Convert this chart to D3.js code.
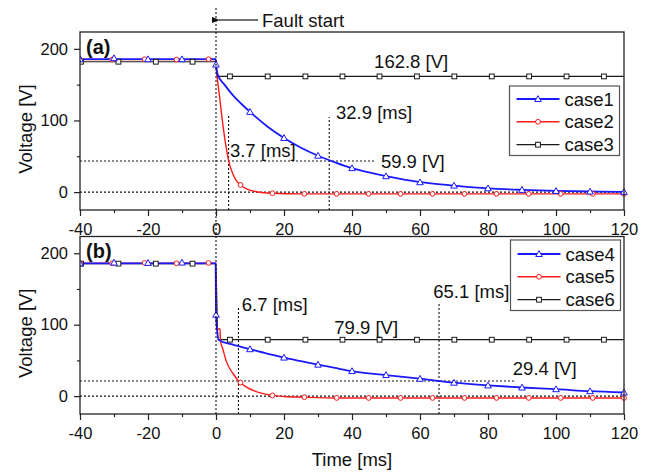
<!DOCTYPE html>
<html><head><meta charset="utf-8">
<script src="https://cdn.jsdelivr.net/npm/d3@7"></script>
<style>body{margin:0;background:#fff}svg{display:block}text{font-family:"Liberation Sans",Arial,sans-serif;fill:#111}</style>
</head><body>
<svg id="chart" width="646" height="472"></svg>
<script>
// ---------- data ----------
const xTicks = [-40,-20,0,20,40,60,80,100,120];
const xMinor = [-30,-10,10,30,50,70,90,110];
const yTicks = [0,100,200];
const yMinor = [50,150];

// panel (a)
const case1Line = [[-40,185.5],[-0.1,185.5],[0,178],[0.5,164],[2.5,150],[5,135],[7.5,123],[10,112],[15,92],[20,75.6],[25,62],[30,50.8],[35,41.5],[40,33.4],[45,27.5],[50,22.2],[60,13.8],[70,9.1],[80,5.3],[90,3.1],[100,1.6],[110,0.8],[120,0.3]];
const case1Marks = [[-40,185.5],[-30,187],[-20,185.5],[-10,185.5],[0,178],[10,112],[20,75.6],[30,50.8],[40,33.4],[50,22.2],[60,13.8],[70,9.1],[80,5.3],[90,3.1],[100,1.6],[110,0.8],[120,0.3]];
const case2Line = [[-40,185],[-0.1,185],[0.3,163],[1,135],[2,95],[3,62],[3.7,44],[5,25],[6,16],[7.2,10],[9,4.5],[12,0.5],[16.6,-1.6],[25,-2.5],[120,-2.5]];
const case2Marks = [[-40,185],[-30.5,185],[-21,185.5],[-11.6,185],[-2.2,185.5],[7.2,10],[16.6,-1.6],[26,-2.5],[35.5,-2.5],[44.9,-2.5],[54.3,-2.5],[63.7,-2.5],[73.1,-2.5],[82.5,-2.5],[92,-2.5],[101.4,-2.5],[110.8,-2.5],[120,-2.5]];
const case3Line = [[-40,182],[-0.1,182],[0.3,161.5],[120,161.5]];
const case3Marks = [[-39.7,182],[-28.7,182],[-17.7,182],[-6.9,182],[4.1,161.5],[15.2,161.5],[26.3,161.5],[37.2,161.5],[48.1,161.5],[59.1,161.5],[70.1,161.5],[81.1,161.5],[92.1,161.5],[103.1,161.5],[114.1,161.5]];

// panel (b)
const case4Line = [[-40,186],[-0.1,186],[0,114],[0.8,78.5],[5,72],[10,65.7],[15,59.5],[20,54],[25,49],[30,44.1],[35,39.5],[40,35.1],[50,29.5],[60,24.4],[70,18.8],[80,15],[90,12.1],[100,9.7],[110,6.9],[120,5.1]];
const case4Marks = [[-40,186],[-30,187],[-20,186.5],[-10,187],[0,114],[10,65.7],[20,54],[30,44.1],[40,35.1],[50,29.5],[60,24.4],[70,18.8],[80,15],[90,12.1],[100,9.7],[110,6.9],[120,5.1]];
const case5Line = [[-40,186],[-0.1,186],[0.2,94],[1.2,94],[1.3,78],[2,66],[3.1,48],[5.1,31],[6.7,21],[8.5,14],[10,10],[13,4.5],[16.6,1],[20,-0.5],[26,-1.5],[35,-2.5],[120,-2.5]];
const case5Marks = [[-40,186],[-30.5,186],[-21,186.5],[-11.6,186],[-2.2,186.5],[7.2,19],[16.6,1],[26,-1.5],[35.5,-2.5],[44.9,-2.5],[54.3,-2.5],[63.7,-2.5],[73.1,-2.5],[82.5,-2.5],[92,-2.5],[101.4,-2.5],[110.8,-2.5],[120,-2.5]];
const case6Line = [[-40,185.5],[-0.1,185.5],[0.6,79],[120,79]];
const case6Marks = [[-39.7,185.5],[-28.7,185.5],[-17.7,185.5],[-6.9,185.5],[4.1,79],[15.2,79],[26.3,79],[37.2,79],[48.1,79],[59.1,79],[70.1,79],[81.1,79],[92.1,79],[103.1,79],[114.1,79]];

const legendA = ["case1","case2","case3"];
const legendB = ["case4","case5","case6"];

// annotations: hlines [v, tEnd], vlines [t, vTop], labels [text, t, v]
const hLinesA = [[0,120],[43.4,46.8]];
const vLinesA = [[3.7,108],[33.3,105]];
const labelsA = [["162.8 [V]",46.5,182],["32.9 [ms]",35.3,111.5],["3.7 [ms]",4.1,58],["59.9 [V]",48.5,43.5]];
const hLinesB = [[0,120],[21.3,87.6]];
const vLinesB = [[6.6,126],[65.6,131]];
const labelsB = [["6.7 [ms]",7.6,129],["65.1 [ms]",63.9,146.5],["79.9 [V]",34.8,97],["29.4 [V]",87.3,39]];

// ---------- drawing ----------
const svg = d3.select("#chart");
const colors = {blue:"#1a1aff", red:"#ff1a1a", black:"#1a1a1a"};
const x = d3.scaleLinear().domain([-40,120]).range([80,624]);
const yDomain = [-25,223.5];

svg.append("defs").append("marker").attr("id","arr").attr("viewBox","0 0 10 10")
  .attr("refX",1).attr("refY",5).attr("markerWidth",8).attr("markerHeight",6).attr("orient","auto-start-reverse")
  .append("path").attr("d","M0,5 L10,1 L10,9 Z").attr("fill","#111");

function panel(top, bottom, tag, series, legendNames, hLines, vLines, labels, legendBox) {
  const y = d3.scaleLinear().domain(yDomain).range([bottom, top]);
  const g = svg.append("g");
  const cid = "clip" + tag;
  svg.select("defs").append("clipPath").attr("id", cid).append("rect")
    .attr("x",80).attr("y",top-4).attr("width",548).attr("height",bottom-top+4);

  // axes
  const fmt = d => String(d);
  g.append("g").attr("transform",`translate(0,${bottom})`)
    .call(d3.axisBottom(x).tickValues(xTicks).tickFormat(fmt).tickSize(6).tickPadding(7));
  g.append("g").attr("transform",`translate(0,${bottom})`)
    .call(d3.axisBottom(x).tickValues(xMinor).tickFormat("").tickSize(3));
  g.append("g").attr("transform","translate(80,0)")
    .call(d3.axisLeft(y).tickValues(yTicks).tickFormat(fmt).tickSize(6).tickPadding(6));
  g.append("g").attr("transform","translate(80,0)")
    .call(d3.axisLeft(y).tickValues(yMinor).tickFormat("").tickSize(3));
  g.selectAll(".domain").remove();
  g.selectAll(".tick line").attr("stroke","#222").attr("stroke-width",1.2);
  g.selectAll(".tick text").attr("font-size",16.5).attr("fill","#111")
    .attr("font-family",'"Liberation Sans",Arial,sans-serif');

  // dotted annotation lines
  hLines.forEach(([v,tEnd]) => {
    g.append("line").attr("x1",x(-40)).attr("x2",x(tEnd)).attr("y1",y(v)).attr("y2",y(v))
      .attr("stroke","#111").attr("stroke-width",1.1).attr("stroke-dasharray","2,2");
  });
  vLines.forEach(([t,vTop]) => {
    g.append("line").attr("x1",x(t)).attr("x2",x(t)).attr("y1",bottom).attr("y2",y(vTop))
      .attr("stroke","#111").attr("stroke-width",1.1).attr("stroke-dasharray","2,2");
  });

  // data
  const line = d3.line().x(d => x(d[0])).y(d => y(d[1])).curve(d3.curveMonotoneX);
  const dg = g.append("g").attr("clip-path",`url(#${cid})`);
  series.forEach(s => {
    dg.append("path").datum(s.line).attr("d",line).attr("fill","none")
      .attr("stroke",s.color).attr("stroke-width",s.w);
  });
  series.forEach(s => {
    drawMarks(dg, s.marks.map(d => [x(d[0]), y(d[1])]), s.shape, s.color);
  });

  // frame
  g.append("rect").attr("x",80).attr("y",top).attr("width",544).attr("height",bottom-top)
    .attr("fill","none").attr("stroke","#222").attr("stroke-width",1.3);

  // labels
  labels.forEach(([txt,t,v]) => {
    g.append("text").attr("x",x(t)).attr("y",y(v)).attr("dy","0.36em")
      .attr("font-size",18.5).text(txt);
  });
  g.append("text").attr("x",86).attr("y",top+14.5).attr("dy","0.36em")
    .attr("font-size",20).attr("font-weight","bold").text(`(${tag})`);

  // y title
  g.append("text").attr("transform",`translate(32,${(top+bottom)/2+8}) rotate(-90)`)
    .attr("text-anchor","middle").attr("font-size",18.5).text("Voltage [V]");

  // legend
  const [lx0,ly0,lx1,ly1,rows] = legendBox;
  const lg = g.append("g");
  lg.append("rect").attr("x",lx0).attr("y",ly0).attr("width",lx1-lx0).attr("height",ly1-ly0)
    .attr("fill","#fff").attr("stroke","#555").attr("stroke-width",1.2);
  series.slice().sort((a,b)=>a.order-b.order).forEach((s,i) => {
    const yy = rows[i];
    lg.append("line").attr("x1",lx0+7).attr("x2",lx0+50).attr("y1",yy).attr("y2",yy)
      .attr("stroke",s.color).attr("stroke-width",s.w);
    drawMarks(lg, [[lx0+28.5,yy]], s.shape, s.color);
    lg.append("text").attr("x",lx0+55).attr("y",yy).attr("dy","0.36em").attr("font-size",18.5).text(legendNames[i]);
  });
}

function drawMarks(g, pts, shape, color) {
  pts.forEach(([px,py]) => {
    if (shape === "tri") {
      g.append("path").attr("d",`M${px},${py-3.3} L${px+3.3},${py+2.5} L${px-3.3},${py+2.5} Z`)
        .attr("fill","#fff").attr("stroke",color).attr("stroke-width",1);
    } else if (shape === "circ") {
      g.append("circle").attr("cx",px).attr("cy",py).attr("r",2.4)
        .attr("fill","#fff").attr("stroke",color).attr("stroke-width",1);
    } else {
      g.append("rect").attr("x",px-2.4).attr("y",py-2.4).attr("width",4.8).attr("height",4.8)
        .attr("fill","#fff").attr("stroke",color).attr("stroke-width",1);
    }
  });
}

panel(32, 210, "a", [
  {line:case3Line, marks:case3Marks, color:colors.black, w:1.2, shape:"sq", order:2},
  {line:case2Line, marks:case2Marks, color:colors.red, w:1.4, shape:"circ", order:1},
  {line:case1Line, marks:case1Marks, color:colors.blue, w:1.8, shape:"tri", order:0}
], legendA, hLinesA, vLinesA, labelsA, [509.5,86,619.5,155.5,[99,121.8,144.7]]);

panel(236.5, 414, "b", [
  {line:case6Line, marks:case6Marks, color:colors.black, w:1.2, shape:"sq", order:2},
  {line:case5Line, marks:case5Marks, color:colors.red, w:1.4, shape:"circ", order:1},
  {line:case4Line, marks:case4Marks, color:colors.blue, w:1.8, shape:"tri", order:0}
], legendB, hLinesB, vLinesB, labelsB, [510.5,240,620.5,310.5,[254,276.8,299.7]]);

// fault start line and arrow
svg.append("line").attr("x1",x(0)).attr("x2",x(0)).attr("y1",8).attr("y2",414)
  .attr("stroke","#111").attr("stroke-width",1.1).attr("stroke-dasharray","2,2");
svg.append("line").attr("x1",258).attr("x2",219).attr("y1",20).attr("y2",20)
  .attr("stroke","#444").attr("stroke-width",1.3).attr("marker-end","url(#arr)");
svg.append("text").attr("x",262).attr("y",20).attr("dy","0.36em").attr("font-size",18.5).text("Fault start");

// x title
svg.append("text").attr("x",352).attr("y",459).attr("dy","0.36em").attr("text-anchor","middle")
  .attr("font-size",18.5).text("Time [ms]");
</script>
</body></html>
